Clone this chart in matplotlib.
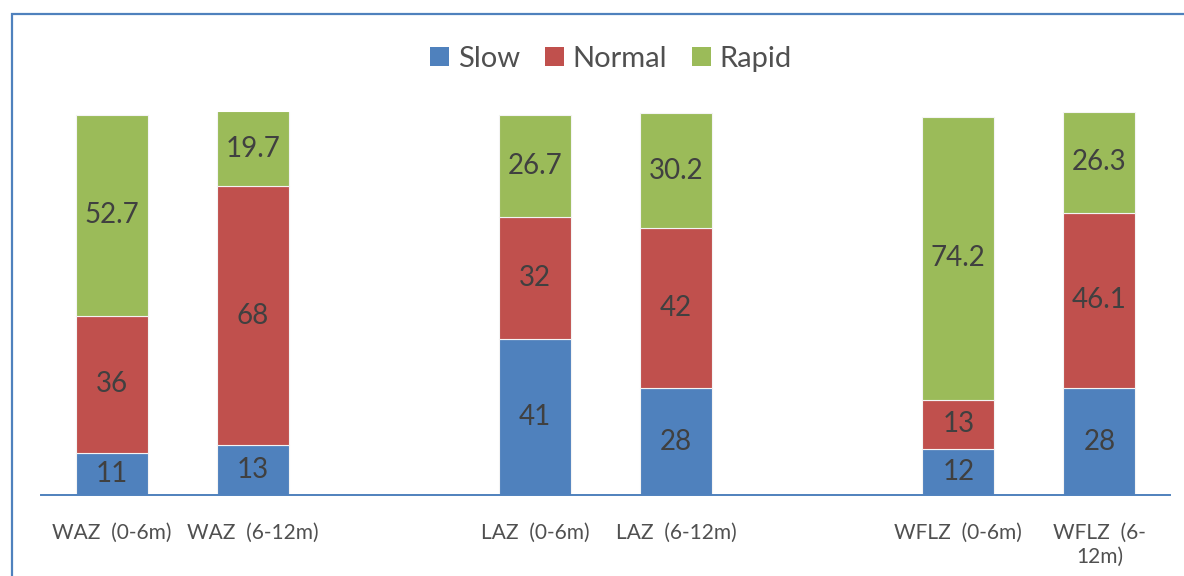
import matplotlib
matplotlib.use("Agg")
import matplotlib.pyplot as plt
import numpy as np
from matplotlib.patches import Rectangle, Patch

plt.rcParams['font.family'] = ['Lato', 'DejaVu Sans']

# growth categories per indicator and age window
labels = ["WAZ  (0-6m)", "WAZ  (6-12m)",
          "LAZ  (0-6m)", "LAZ  (6-12m)",
          "WFLZ  (0-6m)", "WFLZ  (6-\n12m)"]
slow = [11, 13, 41, 28, 12, 28]
normal = [36, 68, 32, 42, 13, 46.1]
rapid = [52.7, 19.7, 26.7, 30.2, 74.2, 26.3]

series = [("Slow", slow, "#4F81BD"),
          ("Normal", normal, "#C0504D"),
          ("Rapid", rapid, "#9BBB59")]

frame_col = "#4F81BD"
text_col = "#404040"

# two bars per indicator, with an empty slot between indicators
x = np.array([g * 3 + i for g in range(3) for i in range(2)])

fig = plt.figure(figsize=(11.84, 5.76), dpi=100)
ax = fig.add_axes([41 / 1184, 81 / 576, 1129 / 1184, 383 / 576])

bottom = np.zeros(len(labels))
for name, vals, col in series:
    bars = ax.bar(x, vals, width=0.51, bottom=bottom, color=col,
                  edgecolor="#f4f4f4", linewidth=0.8, label=name)
    ax.bar_label(bars, labels=[f"{v:g}" for v in vals], label_type="center",
                 fontsize=20, color=text_col)
    bottom += np.array(vals)

ax.set_xlim(-0.5, 7.5)
ax.set_ylim(0, 100.5)
ax.set_xticks(x)
ax.set_xticklabels(labels, fontsize=15, color="#505050", linespacing=1.25)
ax.tick_params(axis="x", length=0, pad=20)
ax.set_yticks([])
for s in ["top", "right", "left"]:
    ax.spines[s].set_visible(False)
ax.spines["bottom"].set_color(frame_col)
ax.spines["bottom"].set_linewidth(1.4)

handles = [Patch(facecolor=c, label=n) for n, _, c in series]
fig.legend(handles=handles, loc="center", bbox_to_anchor=(611 / 1184, 1 - 59 / 576),
           ncol=3, frameon=False, fontsize=21, handlelength=0.65, handleheight=0.65,
           handletextpad=0.3, columnspacing=0.85, labelcolor="#505050")

# outer chart border, running off the right and bottom edges
fig.add_artist(Rectangle((12 / 1184, -0.1), 1.2, 1 - 14 / 576 + 0.1,
                         transform=fig.transFigure, fill=False,
                         edgecolor=frame_col, linewidth=1.6))

fig.savefig("out.png", dpi=100)
